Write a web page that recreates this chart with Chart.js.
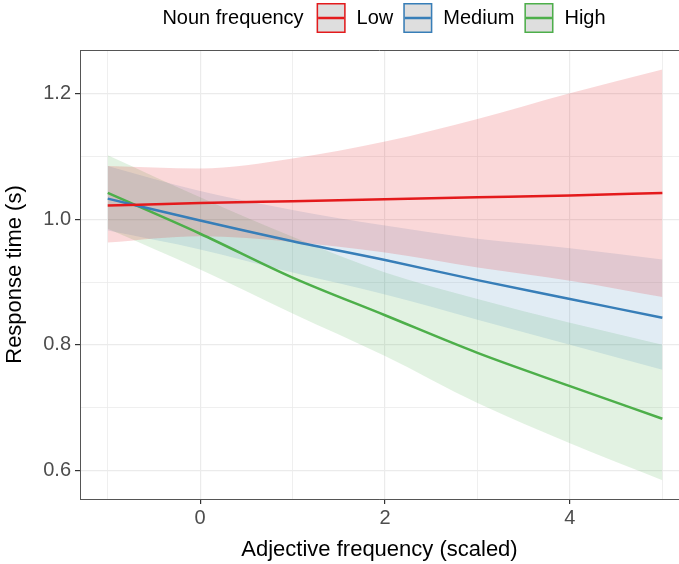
<!DOCTYPE html>
<html>
<head>
<meta charset="utf-8">
<script src="https://cdn.jsdelivr.net/npm/chart.js@4.4.1/dist/chart.umd.min.js"></script>
<style>
html, body { margin: 0; padding: 0; background: #fff; }
</style>
</head>
<body>
<canvas id="grafico_frequencia" width="679" height="564"></canvas>
<script>
// valores
var adj_freq = [-1, 0, 1, 2, 3, 4, 5];

var low_fit = [1.022, 1.026, 1.029, 1.032, 1.035, 1.038, 1.042];
var low_upper = [1.085, 1.081, 1.097, 1.124, 1.160, 1.201, 1.239];
var low_lower = [0.963, 0.973, 0.964, 0.947, 0.923, 0.902, 0.876];

var medium_fit = [1.033, 0.998, 0.965, 0.935, 0.903, 0.873, 0.843];
var medium_upper = [1.085, 1.045, 1.015, 0.990, 0.969, 0.954, 0.936];
var medium_lower = [0.982, 0.952, 0.915, 0.880, 0.840, 0.800, 0.760];

var high_fit = [1.042, 0.977, 0.907, 0.847, 0.787, 0.734, 0.682];
var high_upper = [1.102, 1.035, 0.972, 0.915, 0.873, 0.835, 0.800];
var high_lower = [0.985, 0.920, 0.850, 0.782, 0.707, 0.643, 0.584];

var x_ticks = [-1, 0, 1, 2, 3, 4, 5];
var y_ticks = [0.6, 0.7, 0.8, 0.9, 1.0, 1.1, 1.2];

var fonte = '"Liberation Sans", Arial, sans-serif';

function pontos(valores) {
    return adj_freq.map(function (x, i) { return { x: x, y: valores[i] }; });
}

function linha(label, valores, cor) {
    return {
        label: label,
        data: pontos(valores),
        borderColor: cor,
        borderWidth: 2.5,
        pointRadius: 0,
        cubicInterpolationMode: 'monotone',
        fill: false,
        isLine: true
    };
}

function faixa(label, valores, corFundo, fill) {
    return {
        label: label,
        data: pontos(valores),
        borderWidth: 0,
        borderColor: 'rgba(0,0,0,0)',
        backgroundColor: corFundo,
        pointRadius: 0,
        cubicInterpolationMode: 'monotone',
        fill: fill
    };
}

// linhas primeiro (ficam por cima), depois as faixas de confiança
var datasets = [
    linha('Low', low_fit, '#e41a1c'),
    linha('Medium', medium_fit, '#377eb8'),
    linha('High', high_fit, '#4daf4a'),
    faixa('Low sup', low_upper, 'rgba(228,26,28,0.17)', '+1'),
    faixa('Low inf', low_lower, 'rgba(0,0,0,0)', false),
    faixa('Medium sup', medium_upper, 'rgba(55,126,184,0.15)', '+1'),
    faixa('Medium inf', medium_lower, 'rgba(0,0,0,0)', false),
    faixa('High sup', high_upper, 'rgba(77,175,74,0.16)', '+1'),
    faixa('High inf', high_lower, 'rgba(0,0,0,0)', false)
];

// legenda no topo, estilo ggplot
var legendaPlugin = {
    id: 'legenda',
    afterDraw: function (chart) {
        var c = chart.ctx;
        var itens = chart.data.datasets.filter(function (d) { return d.isLine; });
        var titulo = 'Noun frequency';
        var box = 29, gapTitulo = 13, gapBox = 11, gapItem = 10;
        c.save();
        c.font = '20px ' + fonte;
        c.textBaseline = 'middle';
        c.fillStyle = '#000';
        var total = c.measureText(titulo).width + gapTitulo;
        itens.forEach(function (d, i) {
            total += box + gapBox + c.measureText(d.label).width;
            if (i < itens.length - 1) total += gapItem;
        });
        var yMeio = 18;
        var x = 384 - total / 2;
        c.fillText(titulo, x, yMeio);
        x += c.measureText(titulo).width + gapTitulo;
        itens.forEach(function (d) {
            c.fillStyle = '#dedede';
            c.fillRect(x, yMeio - 15, box, 30);
            c.strokeStyle = d.borderColor;
            c.lineWidth = 1.5;
            c.strokeRect(x + 0.75, yMeio - 14.25, box - 1.5, 28.5);
            c.beginPath();
            c.lineWidth = 2.5;
            c.moveTo(x + 1.5, yMeio);
            c.lineTo(x + box - 1.5, yMeio);
            c.stroke();
            x += box + gapBox;
            c.fillStyle = '#000';
            c.fillText(d.label, x, yMeio);
            x += c.measureText(d.label).width + gapItem;
        });
        // borda superior do painel
        var a = chart.chartArea;
        c.strokeStyle = '#555';
        c.lineWidth = 1;
        c.beginPath();
        c.moveTo(a.left, a.top + 0.5);
        c.lineTo(a.right, a.top + 0.5);
        c.stroke();
        c.restore();
    }
};

function ehMaiorX(v) { return Math.round(v) % 2 === 0; }
function ehMaiorY(v) { return Math.round(v * 10) % 2 === 0; }

var config = {
    type: 'line',
    data: { datasets: datasets },
    plugins: [legendaPlugin],
    options: {
        responsive: false,
        animation: false,
        layout: { padding: { top: 50, right: 0, left: 0, bottom: 0 } },
        scales: {
            x: {
                type: 'linear',
                min: -1.3,
                max: 5.18,
                afterBuildTicks: function (scale) {
                    scale.ticks = x_ticks.map(function (v) { return { value: v }; });
                },
                afterFit: function (scale) { scale.height = 65; },
                grid: {
                    color: '#ebebeb',
                    lineWidth: function (ctx) { return ehMaiorX(ctx.tick.value) ? 1.2 : 0.8; },
                    tickLength: 5,
                    tickColor: function (ctx) { return ehMaiorX(ctx.tick.value) ? '#333' : 'rgba(0,0,0,0)'; }
                },
                border: { color: '#555', width: 1 },
                ticks: {
                    autoSkip: false,
                    maxRotation: 0,
                    padding: 2,
                    color: '#4d4d4d',
                    font: { family: fonte, size: 20 },
                    callback: function (v) { return ehMaiorX(v) ? String(v) : ''; }
                },
                title: {
                    display: true,
                    text: 'Adjective frequency (scaled)',
                    color: '#000',
                    font: { family: fonte, size: 22 },
                    padding: { top: 0, bottom: 1 }
                }
            },
            y: {
                type: 'linear',
                min: 0.554,
                max: 1.27,
                afterBuildTicks: function (scale) {
                    scale.ticks = y_ticks.map(function (v) { return { value: v }; });
                },
                afterFit: function (scale) { scale.width = 80; },
                grid: {
                    color: '#ebebeb',
                    lineWidth: function (ctx) { return ehMaiorY(ctx.tick.value) ? 1.2 : 0.8; },
                    tickLength: 5,
                    tickColor: function (ctx) { return ehMaiorY(ctx.tick.value) ? '#333' : 'rgba(0,0,0,0)'; }
                },
                border: { color: '#555', width: 1 },
                ticks: {
                    autoSkip: false,
                    padding: 4,
                    color: '#4d4d4d',
                    font: { family: fonte, size: 20 },
                    callback: function (v) { return ehMaiorY(v) ? v.toFixed(1) : ''; }
                },
                title: {
                    display: true,
                    text: 'Response time (s)',
                    color: '#000',
                    font: { family: fonte, size: 22 },
                    padding: { top: 2, bottom: 0 }
                }
            }
        },
        plugins: {
            legend: { display: false },
            tooltip: { enabled: false }
        }
    }
};

var ctx_freq = document.getElementById('grafico_frequencia').getContext('2d');
var grafico_freq = new Chart(ctx_freq, config);
</script>
</body>
</html>
